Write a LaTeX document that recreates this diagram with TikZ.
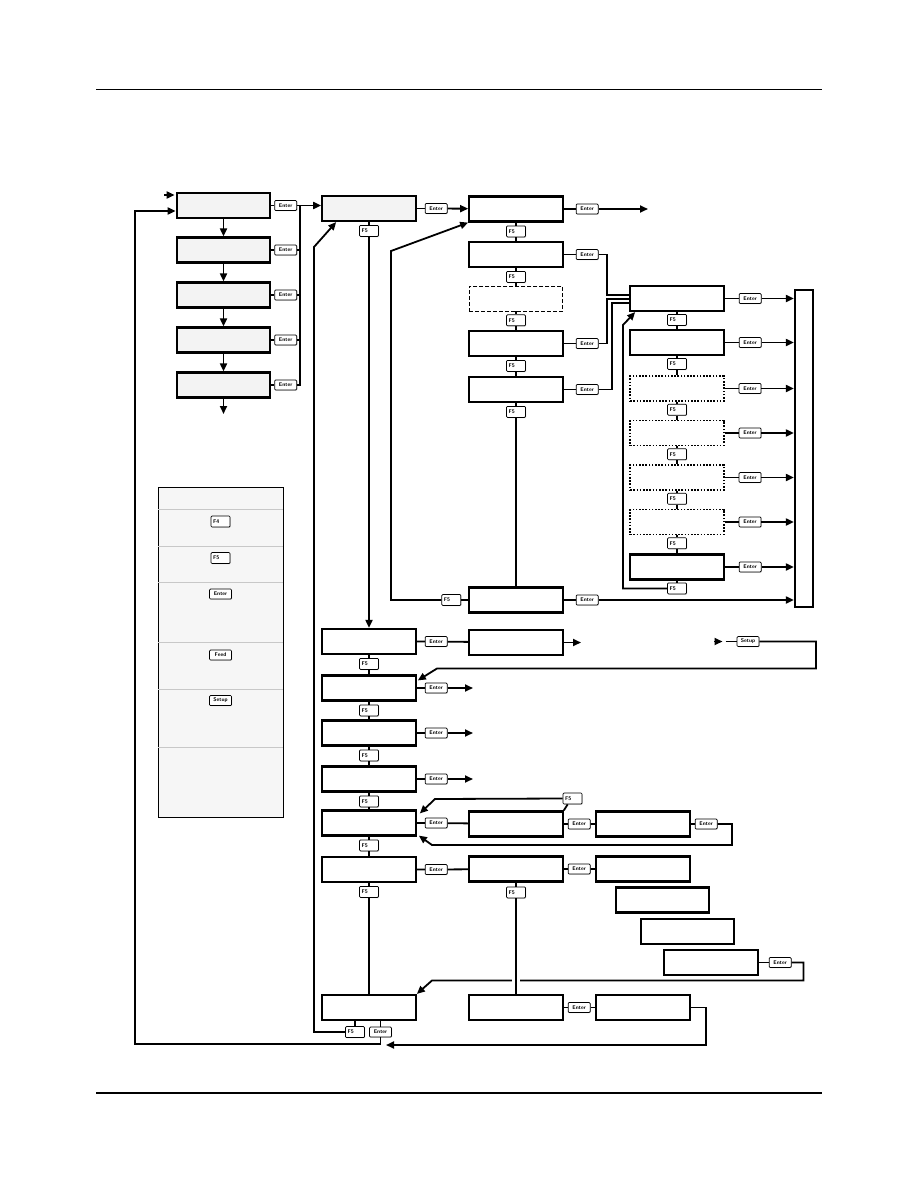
\documentclass[tikz,border=0pt]{standalone}
\usepackage{xcolor}
\definecolor{scrgray}{HTML}{F3F3F3}
\definecolor{legfill}{HTML}{F6F6F6}
\definecolor{legrule}{HTML}{C8C8C8}
\usepackage{tikz}
\usetikzlibrary{arrows.meta,positioning,calc,shadows}

\begin{document}
\begin{tikzpicture}[x=1pt,y=-1pt,
  scr/.style={draw,line width=2.2pt,fill=white,minimum width=93.5pt,
              minimum height=25pt,inner sep=0pt},
  scrfill/.style={scr,fill=scrgray},
  scrdash/.style={scr,line width=0.9pt,dash pattern=on 4pt off 2pt},
  scrdot/.style={scr,line width=1.8pt,dash pattern=on 1.6pt off 1.6pt},
  key/.style={draw,line width=0.7pt,fill=white,rounded corners=1pt,inner sep=0pt,
              minimum width=22pt,minimum height=10pt,
              drop shadow={shadow xshift=0.7pt,shadow yshift=-0.7pt,fill=black!40},
              font=\fontsize{5.4}{6}\selectfont\sffamily\bfseries},
  fkey/.style={key,minimum width=19pt,minimum height=11pt,text width=15pt,align=left},
  conn/.style={line width=1.8pt},
  arr/.style={conn,-{Triangle[length=8pt,width=7pt]}}]

  \useasboundingbox (0,0) rectangle (918,1188);
  \fill[white] (0,0) rectangle (918,1188);

  %% page rules
  \draw[line width=1.3pt] (96,89.5) -- (822,89.5);
  \draw[line width=1.3pt] (96,1093) -- (822,1093);

  %% left column
  \node[scrfill] (a1) at (223.5,205.5) {};
  \node[scrfill] (a2) at (223.5,250) {};
  \node[scrfill] (a3) at (223.5,295) {};
  \node[scrfill] (a4) at (223.5,340) {};
  \node[scrfill] (a5) at (223.5,385) {};
  \foreach \i in {1,...,5}
    \node[key,right=3pt of a\i] (ka\i) {Enter};

  %% second column
  \node[scrfill] (b1) at (369,208.5) {};
  \node[scr] (b2) at (369,641.5) {};
  \node[scr] (b3) at (369,688) {};
  \node[scr] (b4) at (369,733) {};
  \node[scr] (b5) at (369,779) {};
  \node[scr] (b6) at (369,823) {};
  \node[scr] (b7) at (369,869.5) {};
  \node[scr] (b8) at (369,1007.5) {};
  \node[key,right=8pt of b1] (kb1) {Enter};
  \node[fkey,below=3pt of b1] (fb1) {F5};
  \foreach \i in {2,...,7} {
    \node[key,right=8pt of b\i] (kb\i) {Enter};
    \node[fkey,below=3pt of b\i] (fb\i) {F5};
  }
  \node[fkey] (fb8) at (355,1032) {F5};
  \node[key] (kb8) at (380.5,1032) {Enter};

  %% third column
  \node[scr] (c1) at (516,209) {};
  \node[scr] (c2) at (516,254.5) {};
  \node[scrdash] (c3) at (516,298.5) {};
  \node[scr] (c4) at (516,343.5) {};
  \node[scr] (c5) at (516,389.5) {};
  \node[scr] (c6) at (516,600) {};
  \node[scr] (c7) at (516,642.5) {};
  \node[scr] (c8) at (516,824) {};
  \node[scr] (c9) at (516,869) {};
  \node[scr] (c10) at (516,1007.5) {};
  \foreach \i in {1,...,5}
    \node[fkey,below=3pt of c\i] (fc\i) {F5};
  \foreach \i in {1,2,4,5,6}
    \node[key,right=12pt of c\i] (kc\i) {Enter};
  \node[fkey,left=7pt of c6] (fc6) {F5};
  \node[fkey] (fc8) at (572.5,798.5) {F5};
  \node[fkey,below=4pt of c9] (fc9) {F5};
  \foreach \i in {8,9,10}
    \node[key,right=4pt of c\i] (kc\i) {Enter};

  %% fourth column
  \node[scr] (d1) at (677,298.5) {};
  \node[scr] (d2) at (677,342.5) {};
  \node[scrdot] (d3) at (677,388.5) {};
  \node[scrdot] (d4) at (677,433) {};
  \node[scrdot] (d5) at (677,477.5) {};
  \node[scrdot] (d6) at (677,522) {};
  \node[scr] (d7) at (677,567) {};
  \foreach \i in {1,...,7} {
    \node[key,right=14pt of d\i] (kd\i) {Enter};
    \node[fkey,below=2pt of d\i] (fd\i) {F5};
  }
  \node[draw,line width=2.2pt,minimum width=18pt,minimum height=317pt,
        inner sep=0pt] (panel) at (804,448.5) {};

  %% lower right
  \node[scr] (e1) at (643,824) {};
  \node[scr] (e2) at (643,869) {};
  \node[scr] (e3) at (662.5,900) {};
  \node[scr] (e4) at (687.5,931.5) {};
  \node[scr] (e5) at (711,962.5) {};
  \node[scr] (e6) at (643,1007.5) {};
  \node[key,right=4pt of e1] (ke1) {Enter};
  \node[key,right=10pt of e5] (ke5) {Enter};
  \node[key] (ksetup) at (748,641.5) {Setup};

  %% legend
  \node[draw,fill=legfill,line width=0.9pt,minimum width=125pt,
        minimum height=330pt,inner sep=0pt] (legend) at (220.5,652) {};
  \foreach \y in {509,546,582,642,689,747}
    \draw[legrule,line width=0.6pt] (legend.west |- 0,\y) -- (legend.east |- 0,\y);
  \node[fkey] (lf4) at (220.5,521.5) {F4};
  \node[fkey] (lf5) at (220.5,558) {F5};
  \node[key] (lenter) at (220.5,594) {Enter};
  \node[key] (lfeed) at (220.5,655) {Feed};
  \node[key] (lsetup) at (220.5,700.5) {Setup};

  %% routing points
  \coordinate (a1in) at (164,195);
  \coordinate (a5out) at (223.5,414);
  \coordinate (abus) at ($(ka1.east)+(3,0)$);
  \coordinate (loopL) at (135,1044);
  \coordinate (bloop) at (314,247);
  \coordinate (cloop) at (391,251);
  \coordinate (dloop) at (623,325);
  \coordinate (c1out) at (648,209);
  \coordinate (cx1) at (607,0);
  \coordinate (cx2) at (612,0);
  \coordinate (dj1) at ($(d1.west)+(0,-3.5)$);
  \coordinate (dj2) at ($(d1.west)+(0,0.5)$);
  \coordinate (dj3) at ($(d1.west)+(0,4.5)$);
  \coordinate (c7out) at (581,642);
  \coordinate (bout) at (473,0);
  \coordinate (setin) at (714,641.5);
  \coordinate (setR) at (816,668.5);
  \coordinate (setL) at (437,668.5);
  \coordinate (fc8L) at (435,799);
  \coordinate (e1R) at (732,845);
  \coordinate (e1L) at (432,845);
  \coordinate (e5R) at (803.5,980.5);
  \coordinate (e5L) at (432,980.5);
  \coordinate (e6R) at (706,1045);
  \coordinate (e6tip) at (386,1045);

  %% left column links
  \draw[arr] (a1in) -- ($(a1.west |- a1in)+(-1,0)$);
  \foreach \i/\j in {1/2,2/3,3/4,4/5}
    \draw[arr] (a\i) -- (a\j);
  \draw[arr] (a5) -- (a5out);
  \foreach \i in {1,...,5}
    \draw[conn] (a\i) -- (ka\i);
  \foreach \i in {2,3,4}
    \draw[conn] (ka\i.east) -- (ka\i.east -| abus);
  \draw[conn] (ka5.east) -| (abus);
  \draw[arr] (ka1.east) -- (ka1.east -| b1.west);
  \draw[arr] (kb8.south) |- (loopL) |- ($(a1.west)+(0,5.5)$);

  %% top rows
  \draw[conn] (b1) -- (kb1);
  \draw[arr] (kb1) -- (c1);
  \draw[conn] (b1) -- (fb1);
  \draw[arr] (fb1) -- (b2);
  \draw[arr] (fb8.west) -| (bloop) -- ($(b1.south west)+(15,0)$);
  \draw[conn] (c1) -- (kc1);
  \draw[arr] (kc1) -- (kc1 -| c1out);
  \foreach \i/\j in {1/2,2/3,3/4,4/5}
    \draw[conn] (c\i) -- (fc\i) -- (c\j);
  \draw[conn] (c5) -- (fc5) -- (c6);
  \foreach \i in {2,4,5}
    \draw[conn] (c\i) -- (kc\i);
  \draw[conn] (kc2.east) -| (cx1 |- dj1) -- (dj1);
  \draw[conn] (kc4.east) -| (cx1 |- dj2) -- (dj2);
  \draw[conn] (kc5.east) -| (cx2 |- dj3) -- (dj3);
  \draw[conn] (fc6) -- (c6);
  \draw[arr] (fc6.west) -| (cloop) -- (c1.south west);
  \draw[conn] (c6) -- (kc6);
  \draw[arr] (kc6) -- (kc6 -| panel.west);

  %% fourth column links
  \foreach \i/\j in {1/2,2/3,3/4,4/5,5/6,6/7}
    \draw[conn] (d\i) -- (fd\i) -- (d\j);
  \foreach \i in {1,...,7} {
    \draw[conn] (d\i) -- (kd\i);
    \draw[arr] (kd\i) -- (kd\i -| panel.west);
  }
  \draw[conn] (d7) -- (fd7);
  \draw[arr] (fd7.west) -| (dloop) -- ($(d1.south west)+(6,0)$);

  %% lower rows
  \foreach \i/\j in {2/3,3/4,4/5,5/6,6/7,7/8}
    \draw[conn] (b\i) -- (fb\i) -- (b\j);
  \draw[conn] (fb8) -- (fb8 |- b8.south);
  \draw[conn] (kb8) -- (kb8 |- b8.south);
  \draw[conn] (b2) -- (kb2) -- (c7);
  \draw[arr] (c7.east) -- (c7.east -| c7out);
  \draw[arr] (setin) -- ++(8.5,0);
  \draw[conn] ($(ksetup.west)+(-11,0)$) -- (ksetup.west);
  \draw[arr] (ksetup.east) -| (setR) -- (setL) -- ($(b3.north east)+(1,6)$);
  \foreach \i in {3,4,5} {
    \draw[conn] (b\i) -- (kb\i);
    \draw[arr] (kb\i.east) -- (kb\i.east -| bout);
  }
  \draw[conn] (b6) -- (kb6) -- (c8) -- (kc8) -- (e1) -- (ke1);
  \draw[arr] (ke1.east) -| (e1R) -- (e1L) -- ($(b6.south east)+(2,-1)$);
  \draw[conn] ($(fc8.south west)+(5,0)$) -- (c8.north east);
  \draw[arr] (fc8.west) -- (fc8L) -- ($(b6.north east)+(3,4)$);
  \draw[conn] (b7) -- (kb7) -- (c9) -- (kc9) -- (e2);
  \draw[conn] (e5) -- (ke5);
  \draw[arr] (ke5.east) -| (e5R) -- (e5L) -- (b8.north east);
  \fill[white] ($(c10.north)+(-4,-18)$) rectangle ($(c10.north)+(4,-9)$);
  \draw[conn] (c9) -- (fc9) -- (c10);
  \draw[conn] (c10) -- (kc10) -- (e6);
  \draw[arr] (e6.east) -| (e6R) -- (e6tip);
\end{tikzpicture}
\end{document}
